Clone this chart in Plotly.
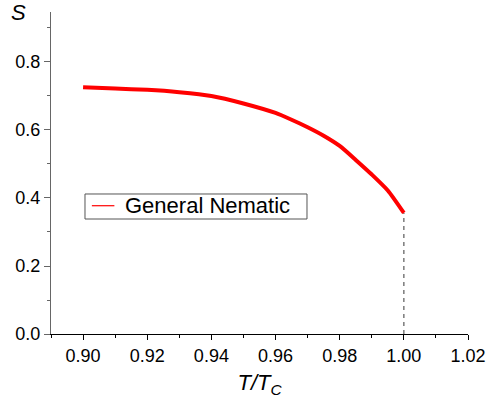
import plotly.graph_objects as go

# Reduced temperature T/Tc and order parameter S
T = [0.900, 0.910, 0.920, 0.930, 0.940, 0.950, 0.960, 0.965, 0.970, 0.975,
     0.980, 0.985, 0.990, 0.995, 1.000]
S = [0.726, 0.722, 0.718, 0.711, 0.700, 0.678, 0.650, 0.630, 0.608, 0.583,
     0.553, 0.512, 0.469, 0.422, 0.356]

# Vertical dashed drop at the transition
T_DROP = [1.000, 1.000]
S_DROP = [0.0, S[-1]]

X_TICKS = [0.90, 0.92, 0.94, 0.96, 0.98, 1.00, 1.02]
Y_TICKS = [0.0, 0.2, 0.4, 0.6, 0.8]

SERIES_NAME = "General Nematic"
FONT = "Liberation Sans, Arial, sans-serif"

fig = go.Figure()
fig.add_trace(go.Scatter(x=T_DROP, y=S_DROP, mode="lines",
                         line=dict(color="#666666", width=1.3, dash="4px,4px"),
                         showlegend=False, hoverinfo="skip"))
fig.add_trace(go.Scatter(x=T, y=S, mode="lines", name=SERIES_NAME,
                         line=dict(color="#ff0000", width=4, shape="spline", smoothing=0.6),
                         showlegend=False))

# boxed legend as in the reference (thin line sample)
shapes = [
    dict(type="rect", xref="paper", yref="paper", x0=0.0815, x1=0.6139,
         y0=0.3571, y1=0.4348, line=dict(color="#555555", width=1),
         fillcolor="white", layer="above"),
    dict(type="line", xref="paper", yref="paper", x0=0.098, x1=0.152,
         y0=0.3984, y1=0.3984, line=dict(color="#ff0000", width=1.2), layer="above"),
]

fig.update_layout(
    width=495, height=398,
    margin=dict(l=51, r=27, t=12, b=64),
    paper_bgcolor="white", plot_bgcolor="white",
    font=dict(family=FONT, color="black", size=18),
    showlegend=False,
    shapes=shapes,
    xaxis=dict(range=[0.89, 1.02], tickvals=X_TICKS, tickformat=".2f",
               automargin=False,
               showgrid=False, zeroline=False, showline=True, linecolor="black",
               linewidth=1, ticks="outside", ticklen=5, tickcolor="black",
               minor=dict(dtick=0.01, tick0=0.90, ticks="outside", ticklen=3,
                          tickcolor="black", showgrid=False),
               title=dict(text="<i>T/T<sub>C</sub></i>", font=dict(size=22), standoff=10),
               tickfont=dict(size=18)),
    yaxis=dict(range=[0, 0.947], tickvals=Y_TICKS, tickformat=".1f",
               automargin=False,
               showgrid=False, zeroline=False, showline=True, linecolor="#666666",
               linewidth=1, ticks="outside", ticklen=6, tickcolor="#666666",
               minor=dict(dtick=0.1, tick0=0, ticks="outside", ticklen=3,
                          tickcolor="#666666", showgrid=False),
               tickfont=dict(size=18)),
    annotations=[
        dict(text="<i>S</i>", xref="paper", yref="paper",
             x=-0.077, y=1.0, xanchor="center", yanchor="middle",
             showarrow=False, font=dict(size=22, family=FONT)),
        dict(text=SERIES_NAME, xref="paper", yref="paper",
             x=0.1727, y=0.3984, xanchor="left", yanchor="middle",
             showarrow=False, font=dict(size=22, family=FONT)),
    ],
)

fig.write_html("out.html")
